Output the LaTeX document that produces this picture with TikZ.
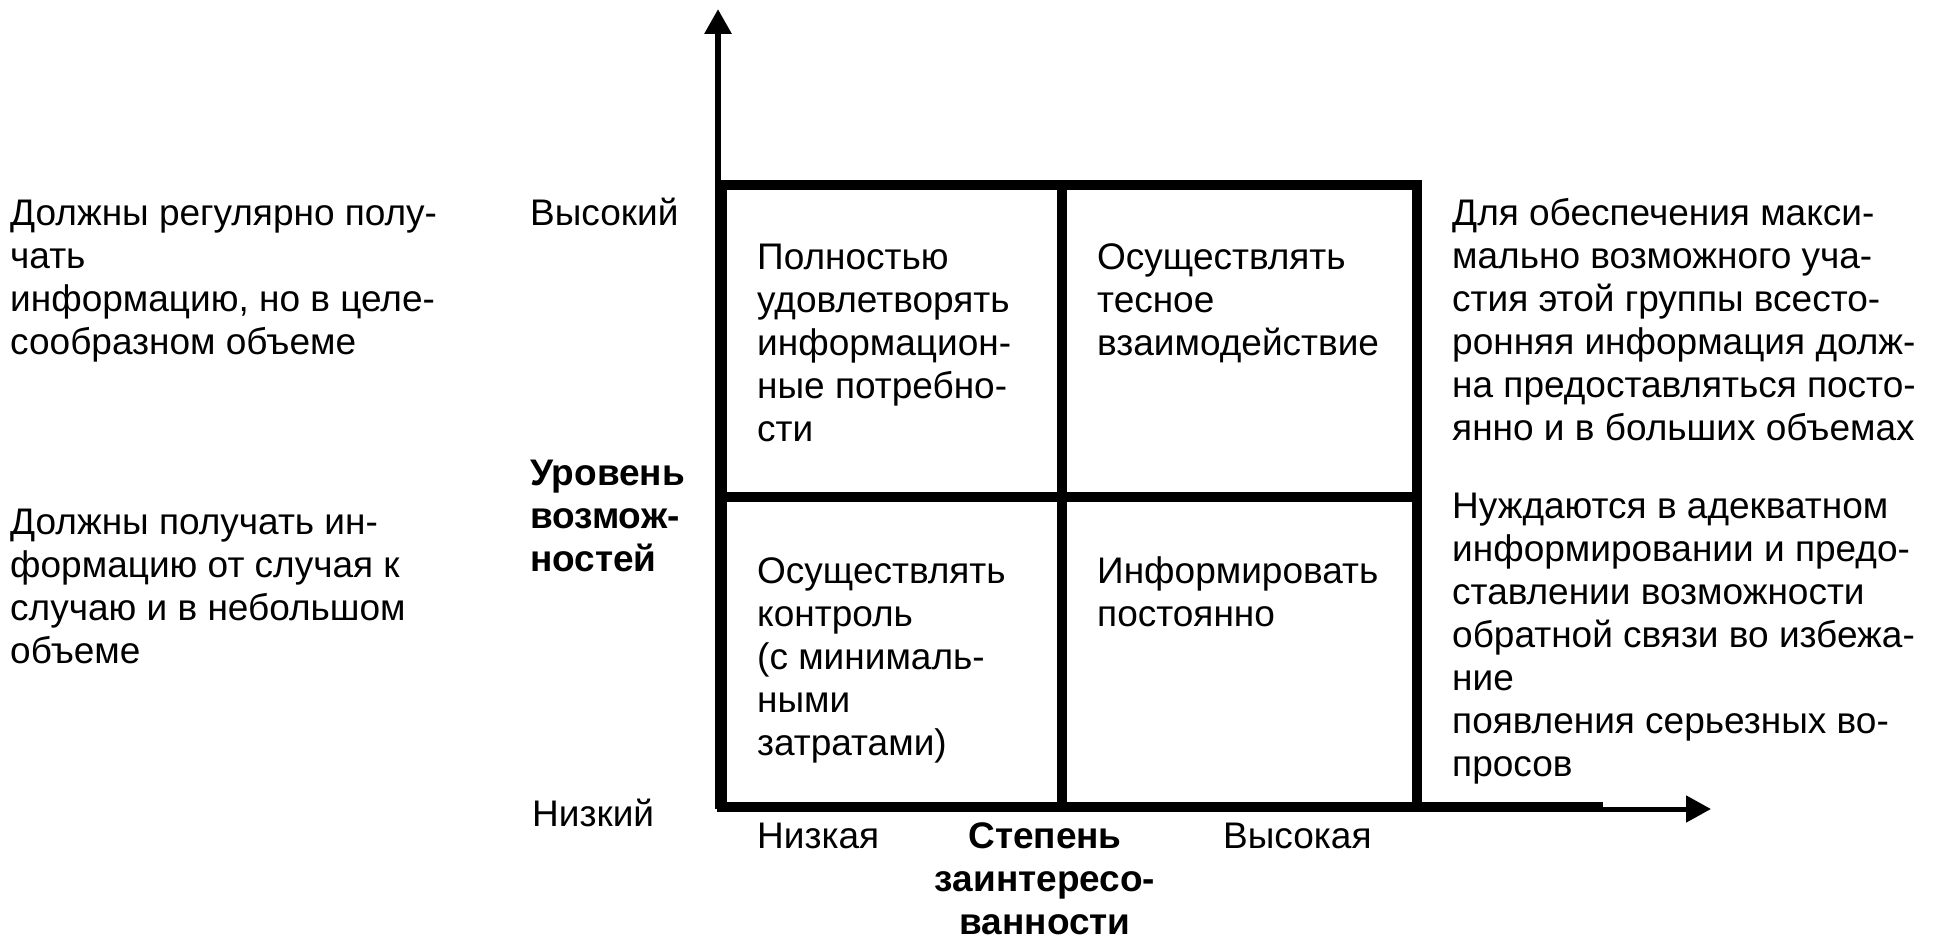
\documentclass[tikz,border=0pt]{standalone}
\usepackage{fontspec}
\setmainfont{Liberation Sans}
\usetikzlibrary{arrows.meta}
\newcommand{\fr}{\rule{0pt}{32pt}}
\begin{document}
\begin{tikzpicture}[x=1pt,y=-1pt,
  txt/.style={anchor=north west, inner sep=0pt, align=left, font=\fontsize{37}{43}\selectfont},
  btxt/.style={txt, font=\fontsize{37}{43}\selectfont\bfseries},
  frame/.style={line width=10pt, line join=miter},
  axis/.style={line width=#1, -{Triangle[width=26pt,length=25pt]}}]
\useasboundingbox (0,0) rectangle (1933,947);
% coordinates
\coordinate (O) at (718,809);
\coordinate (Ytop) at (718,9);
\coordinate (Xend) at (1711,809);
\coordinate (TL) at (722,185);
\coordinate (BR) at (1417,807);
\coordinate (Mt) at (1062,185);
\coordinate (Mb) at (1062,807);
\coordinate (Ml) at (722,497);
\coordinate (Mr) at (1417,497);
\coordinate (Bl) at (717,807);
\coordinate (Be) at (1603,807);
% axes
\draw[axis=6pt] (O) -- (Ytop);
\draw[axis=5pt] (O) -- (Xend);
% grid
\draw[frame] (TL) rectangle (BR);
\draw[frame] (Bl) -- (Be);
\draw[frame] (Mt) -- (Mb);
\draw[frame] (Ml) -- (Mr);
% left texts
\node[txt] (lt) at (10,193) {\fr Должны регулярно полу-\\чать\\информацию, но в целе-\\сообразном объеме};
\node[txt] (lb) at (10,502) {\fr Должны получать ин-\\формацию от случая к\\случаю и в небольшом\\объеме};
% y axis labels
\node[txt] (yhi) at (530,193) {\fr Высокий};
\node[btxt] (ylab) at (530,453) {\fr Уровень\\возмож-\\ностей};
\node[txt] (ylo) at (532,794) {\fr Низкий};
% cells
\node[txt] (c11) at (757,237) {\fr Полностью\\удовлетворять\\информацион-\\ные потребно-\\сти};
\node[txt] (c12) at (1097,237) {\fr Осуществлять\\тесное\\взаимодействие};
\node[txt] (c21) at (757,551) {\fr Осуществлять\\контроль\\(с минималь-\\ными\\затратами)};
\node[txt] (c22) at (1097,551) {\fr Информировать\\постоянно};
% right texts
\node[txt] (rt) at (1452,193) {\fr Для обеспечения макси-\\мально возможного уча-\\стия этой группы всесто-\\ронняя информация долж-\\на предоставляться посто-\\янно и в больших объемах};
\node[txt] (rb) at (1452,486) {\fr Нуждаются в адекватном\\информировании и предо-\\ставлении возможности\\обратной связи во избежа-\\ние\\появления серьезных во-\\просов};
% x axis labels
\node[txt] (xlo) at (757,816) {\fr Низкая};
\node[btxt, anchor=north, align=center] (xlab) at (1045,816) {\fr Степень\\заинтересо-\\ванности};
\node[txt] (xhi) at (1223,816) {\fr Высокая};
\end{tikzpicture}
\end{document}
